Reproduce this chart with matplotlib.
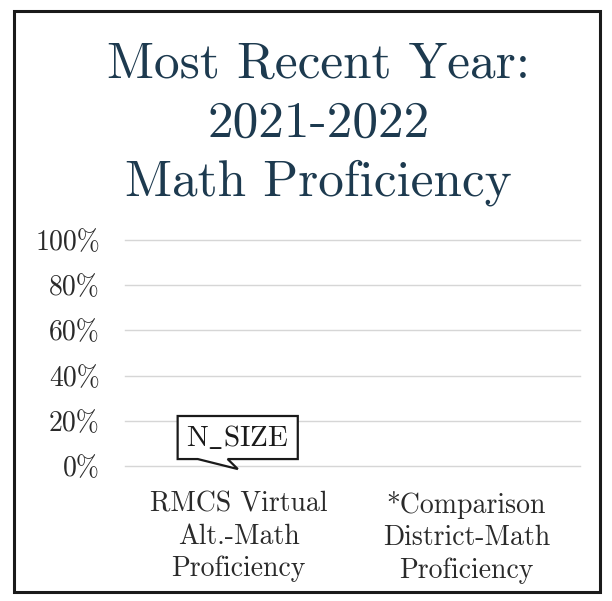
import matplotlib.pyplot as plt
import matplotlib.transforms as mtransforms
from matplotlib.patches import Polygon, Rectangle

plt.rcParams['font.family'] = ['cmr10', 'DejaVu Serif']
plt.rcParams['mathtext.fontset'] = 'cm'
plt.rcParams['axes.unicode_minus'] = False

# chart data
title = "Most Recent Year:\n2021-2022\nMath Proficiency"
categories = ["RMCS Virtual\nAlt.-Math\nProficiency",
              "*Comparison\nDistrict-Math\nProficiency"]
values = [0, 0]
bar_labels = [r"$\mathrm{N\_SIZE}$", None]
yticks = [0, 0.2, 0.4, 0.6, 0.8, 1.0]
ytick_labels = ["0%", "20%", "40%", "60%", "80%", "100%"]

fig = plt.figure(figsize=(6.12, 6.01), dpi=100)
fig.patch.set_facecolor("white")

# outer frame of the scanned card
fig.patches.append(Rectangle((14 / 612, 1 - 592 / 601), 586 / 612, 581 / 601,
                             transform=fig.transFigure, fill=False,
                             edgecolor="#1a1a1a", linewidth=2.2))

fig.text(0.52, 1 - 42 / 601, title, ha="center", va="top", fontsize=37,
         color="#1d3a4f", linespacing=1.36)

ax = fig.add_axes([125 / 612, 1 - 466 / 601, 455 / 612, 226 / 601])
ax.set_xlim(-0.5, len(categories) - 0.5)
ax.set_ylim(0, 1)
for s in ax.spines.values():
    s.set_visible(False)
ax.set_yticks(yticks)
ax.set_yticklabels(ytick_labels, fontsize=20, color="#2a2a2a")
ax.set_xticks(range(len(categories)))
ax.set_xticklabels(categories, fontsize=20, color="#2a2a2a", linespacing=1.3)
ax.tick_params(axis="y", length=0, pad=18)
ax.tick_params(axis="x", length=0, pad=18)
ax.yaxis.grid(True, color="#d6d6d6", linewidth=1.0)
for gl in ax.get_ygridlines():
    gl.set_clip_on(False)
ax.set_axisbelow(True)
ax.bar(range(len(categories)), values, width=0.5, color="#1d3a4f")

# speech-bubble labels above each bar (shape in points, anchored at bar top)
bubble = [(-44, 5), (-44, 36), (42.5, 36), (42.5, 5), (-8, 5),
          (-0.7, -2.2), (-29.5, 5)]
for i, (v, lab) in enumerate(zip(values, bar_labels)):
    if lab is None:
        continue
    tr = (mtransforms.Affine2D().scale(1 / 72) + fig.dpi_scale_trans
          + mtransforms.ScaledTranslation(i, v, ax.transData))
    ax.add_patch(Polygon(bubble, closed=True, transform=tr, facecolor="white",
                         edgecolor="#1a1a1a", linewidth=1.6, clip_on=False,
                         zorder=3))
    ax.text(-0.8, 20.5, lab, transform=tr, ha="center", va="center",
            fontsize=21, color="#1a1a1a", zorder=4)

fig.savefig("out.png", dpi=100)
